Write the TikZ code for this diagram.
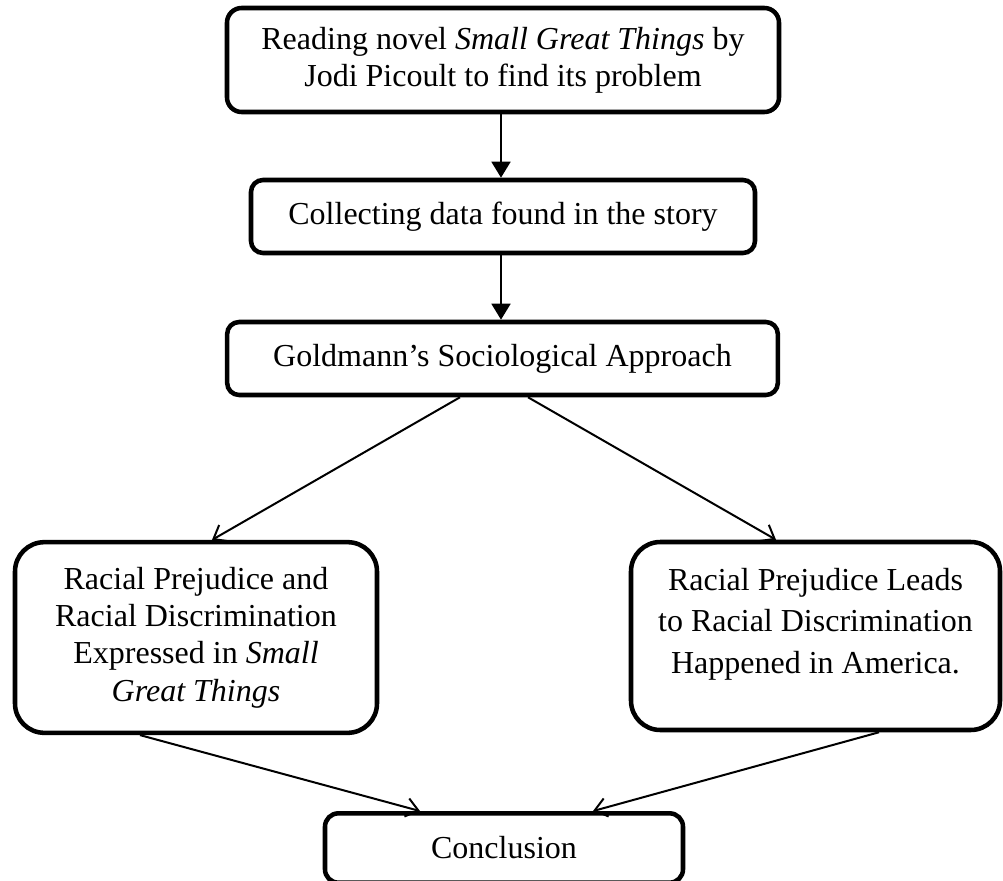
\documentclass[tikz,border=0pt]{standalone}
\usepackage{fontspec}
\setmainfont{Liberation Serif}
\usetikzlibrary{arrows.meta,calc}
\begin{document}
\begin{tikzpicture}[x=0.75pt,y=-0.75pt,
  box/.style={draw=black,line width=3.4pt,align=center,inner sep=0pt,font=\fontsize{24}{27.75}\selectfont},
  plain/.style={align=center,inner sep=0pt},
  varrow/.style={line width=2.1pt,-{Triangle[length=12pt,width=14pt]}},
  darrow/.style={line width=1.5pt,-{Straight Barb[length=9pt,width=14pt]}}]
\useasboundingbox (0,0) rectangle (1003,881);
\node[box,rounded corners=11pt,minimum width=414pt,minimum height=78pt] (b1) at (503,60)
  {Reading novel \textit{Small Great Things} by\\Jodi Picoult to find its problem};
\node[box,rounded corners=9pt,minimum width=378pt,minimum height=54.75pt] (b2) at (503,216.5)
  {Collecting data found in the story};
\node[box,rounded corners=9pt,minimum width=413pt,minimum height=54.75pt] (b3) at (502.5,358.5)
  {Goldmann’s Sociological Approach};
\node[box,rounded corners=22pt,minimum width=271.5pt,minimum height=143pt,font=\fontsize{24}{28.1}\selectfont] (b4) at (196,637.5)
  {Racial Prejudice and\\Racial Discrimination\\Expressed in \textit{Small}\\\textit{Great Things}};
\node[box,rounded corners=22pt,minimum width=276.75pt,minimum height=141pt] (b5) at (815.5,636) {};
\node[plain,font=\fontsize{24}{31.1}\selectfont] (t5) at (815.5,624)
  {Racial Prejudice Leads\\to Racial Discrimination\\Happened in America.};
\node[box,rounded corners=10pt,minimum width=268.5pt,minimum height=52pt] (b6) at (504,848)
  {Conclusion};
\draw[varrow] ($(b1.south)+(-2,0)$) -- ($(b2.north)+(-2,0)$);
\draw[varrow] ($(b2.south)+(-2,0)$) -- ($(b3.north)+(-1.5,0)$);
\draw[darrow] ($(b3.south)+(-42.5,0)$) -- ($(b4.north)+(16,0)$);
\draw[darrow] ($(b3.south)+(25.5,0)$) -- ($(b5.north)+(-39.5,0)$);
\draw[darrow] ($(b4.south)+(-56,0)$) -- ($(b6.north)+(-84,0)$);
\draw[darrow] ($(b5.south)+(63.5,0)$) -- ($(b6.north)+(89,0)$);
\end{tikzpicture}
\end{document}
